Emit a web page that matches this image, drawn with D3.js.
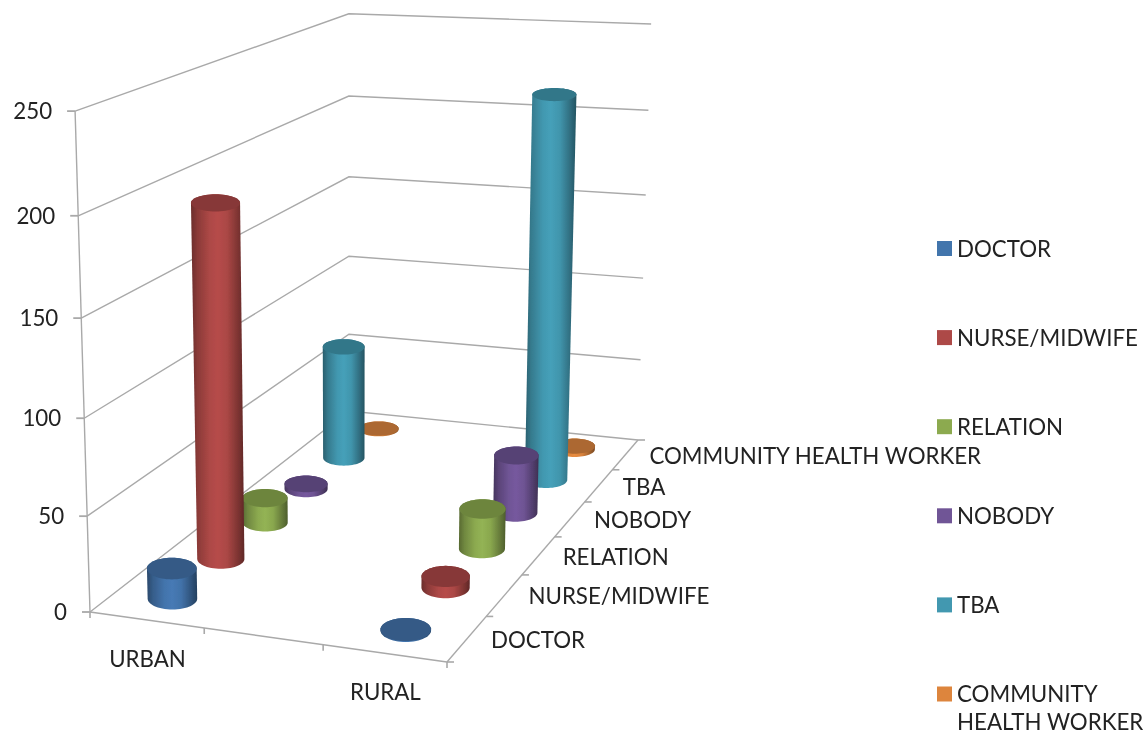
<!DOCTYPE html>
<html><head><meta charset="utf-8">
<script src="https://cdn.jsdelivr.net/npm/d3@7"></script>
<style>html,body{margin:0;background:#fff}svg{display:block}text{font-family:"Lato",sans-serif;font-size:22.3px;fill:#222}</style>
</head><body><svg id="c" width="1145" height="735"></svg>
<script>
// ---- data
const places = ["URBAN", "", "RURAL"];
const depthNames = ["DOCTOR", "NURSE/MIDWIFE", "RELATION", "NOBODY", "TBA", "COMMUNITY HEALTH WORKER"];
const doctor = [16, null, 0.4];
const nurse = [190, null, 6];
const relation = [14, null, 22];
const nobody = [3, null, 33];
const tba = [68, null, 222];
const chw = [0.4, null, 2];
const seriesValues = [doctor, nurse, relation, nobody, tba, chw];
const valueTicks = [0, 50, 100, 150, 200, 250];
const baseColors = ["#4374ac", "#ad4846", "#8caa50", "#705596", "#4298b0", "#dd853d"];
const legendLines = [["DOCTOR"], ["NURSE/MIDWIFE"], ["RELATION"], ["NOBODY"], ["TBA"], ["COMMUNITY", "HEALTH WORKER"]];

// ---- camera fitted to the box corners
const floorCorners = [[0,0,90,612],[1,0,447,662],[1,1,638,440],[0,1,349,411]];
const topCorners = [[0,0,75,111],[1,1,651,26],[0,1,349,12]];
function solve(A, b){
  const n=b.length, M=A.map((r,i)=>[...r,b[i]]);
  for(let i=0;i<n;i++){
    let p=i; for(let k=i+1;k<n;k++) if(Math.abs(M[k][i])>Math.abs(M[p][i])) p=k;
    [M[i],M[p]]=[M[p],M[i]];
    for(let k=0;k<n;k++) if(k!==i){const f=M[k][i]/M[i][i]; for(let j=i;j<=n;j++) M[k][j]-=f*M[i][j];}
  }
  return M.map((r,i)=>r[n]/r[i]);
}
const hA=[],hB=[];
floorCorners.forEach(([x,z,u,v])=>{
  hA.push([x,z,1,0,0,0,-u*x,-u*z]);hB.push(u);
  hA.push([0,0,0,x,z,1,-v*x,-v*z]);hB.push(v);
});
const h=solve(hA,hB);
const N=[[0,0,0],[0,0,0],[0,0,0]],R=[0,0,0];
topCorners.forEach(([x,z,u,v])=>{
  const U=h[0]*x+h[1]*z+h[2],V=h[3]*x+h[4]*z+h[5],W=h[6]*x+h[7]*z+1;
  [[[1,0,-u],u*W-U],[[0,1,-v],v*W-V]].forEach(([row,rhs])=>{
    for(let i=0;i<3;i++){R[i]+=row[i]*rhs;for(let j=0;j<3;j++)N[i][j]+=row[i]*row[j];}
  });
});
const [ya,yb,yc]=solve(N,R);
function project(x,y,z){
  const w=h[6]*x+h[7]*z+1+yc*y;
  return [(h[0]*x+h[1]*z+h[2]+ya*y)/w,(h[3]*x+h[4]*z+h[5]+yb*y)/w];
}

// ---- scales
const xBand=d3.scaleBand().domain(d3.range(places.length)).range([0,1]);
const zBand=d3.scaleBand().domain(d3.range(depthNames.length)).range([0,1]);
const yScale=d3.scaleLinear().domain([0,250]).range([0,1]);
const rX=xBand.bandwidth()*0.19, rZ=zBand.bandwidth()*0.25;

const svg=d3.select("#c");
const defs=svg.append("defs");
defs.append("filter").attr("id","soft").attr("x","-5%").attr("y","-5%").attr("width","110%").attr("height","110%")
  .append("feGaussianBlur").attr("stdDeviation",0.45);
const root=svg.append("g").attr("filter","url(#soft)");
const lineP=d3.line();
const grid="#a9a9a9";
function seg(a,b,w){root.append("path").attr("d",lineP([a,b])).attr("fill","none").attr("stroke",grid).attr("stroke-width",w||1.4);}

// ---- walls
valueTicks.forEach(t=>{
  const Y=yScale(t);
  root.append("path").attr("d",lineP([project(0,Y,0),project(0,Y,1),project(1,Y,1)]))
    .attr("fill","none").attr("stroke",grid).attr("stroke-width",1.4);
  const p=project(0,Y,0);
  seg([p[0]-8,p[1]],p,1.8);
  root.append("text").attr("x",p[0]-23).attr("y",p[1]).attr("dy","0.36em").attr("text-anchor","end").text(t);
});
seg(project(0,0,0),project(0,1,0),1.4);
seg(project(0,0,0),project(1,0,0),1.4);
seg(project(1,0,0),project(1,0,1),1.4);

// ---- axis ticks and labels
d3.range(places.length+1).forEach(i=>{
  const X=i===places.length?1:xBand(i), p=project(X,0,0);
  seg(p,[p[0],p[1]+6],1.6);
});
places.forEach((name,i)=>{
  const p=project(xBand(i)+xBand.bandwidth()/2,0,0);
  root.append("text").attr("x",p[0]+1).attr("y",p[1]+39).attr("dy","0.36em").attr("text-anchor","middle").text(name);
});
d3.range(depthNames.length+1).forEach(i=>{
  const Z=i===depthNames.length?1:zBand(i), p=project(1,0,Z);
  seg(p,[p[0]+7,p[1]],1.6);
});
depthNames.forEach((name,i)=>{
  const p=project(1,0,zBand(i)+zBand.bandwidth()/2);
  root.append("text").attr("x",p[0]+24).attr("y",p[1]+1).attr("dy","0.36em").text(name);
});

// ---- gradients
baseColors.forEach((c,i)=>{
  const col=d3.color(c);
  const g=defs.append("linearGradient").attr("id","g"+i);
  [[0,0.62],[0.12,0.8],[0.35,1.0],[0.5,1.05],[0.68,0.98],[0.88,0.72],[1,0.55]].forEach(([o,k])=>{
    const s=d3.rgb(col.r*k,col.g*k,col.b*k);
    g.append("stop").attr("offset",o).attr("stop-color",s.formatHex());
  });
});

// ---- cylinders, back to front: level ellipses sized from the projected disc
const angles=d3.range(0,2*Math.PI,Math.PI/30);
function ring(X,Y,Z){
  const pts=angles.map(a=>project(X+rX*Math.cos(a),Y,Z+rZ*Math.sin(a)));
  const [x0,x1]=d3.extent(pts,p=>p[0]), [y0,y1]=d3.extent(pts,p=>p[1]);
  const c=project(X,Y,Z), rx=(x1-x0)/2, ry=(y1-y0)/2*(1+0.55*Y);
  return angles.map(a=>[c[0]+rx*Math.cos(a),c[1]+ry*Math.sin(a)]);
}
const closed=d3.line().curve(d3.curveLinearClosed);
d3.range(seriesValues.length-1,-1,-1).forEach(s=>{
  places.forEach((_,i)=>{
    const v=seriesValues[s][i];
    if(v==null) return;
    const X=xBand(i)+xBand.bandwidth()/2, Z=zBand(s)+zBand.bandwidth()/2, Y=yScale(v);
    const bottom=ring(X,0,Z), top=ring(X,Y,Z);
    root.append("path").attr("d",closed(d3.polygonHull(bottom.concat(top)))).attr("fill",`url(#g${s})`);
    const col=d3.color(baseColors[s]);
    root.append("path").attr("d",closed(top)).attr("fill",d3.rgb(col.r*0.78,col.g*0.78,col.b*0.78).formatHex());
  });
});

// ---- legend
const legendY=d3.scalePoint().domain(d3.range(legendLines.length)).range([248.5,694]);
legendLines.forEach((lines,i)=>{
  const y=legendY(i);
  root.append("rect").attr("x",937).attr("y",y-7.5).attr("width",15).attr("height",15).attr("fill",baseColors[i]);
  lines.forEach((l,k)=>{
    root.append("text").attr("x",957).attr("y",y+k*27.5).attr("dy","0.36em").text(l);
  });
});
</script></body></html>
